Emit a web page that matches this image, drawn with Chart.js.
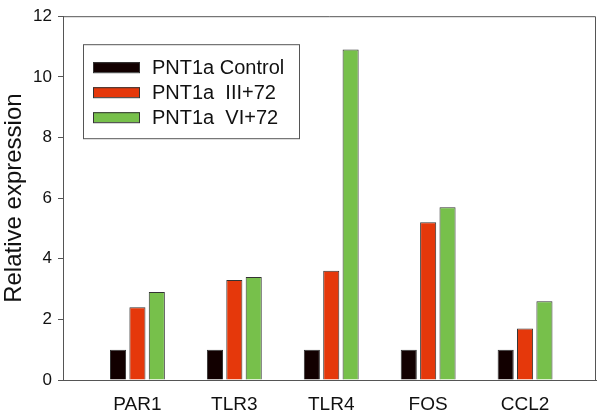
<!DOCTYPE html>
<html>
<head>
<meta charset="utf-8">
<script src="https://cdn.jsdelivr.net/npm/chart.js@4"></script>
<style>
  html, body { margin: 0; padding: 0; background: #fff; }
  #wrap { width: 600px; height: 412px; }
</style>
</head>
<body>
<div id="wrap"><canvas id="grafico"></canvas></div>
<script>
// datos del grafico
const categorias = ["PAR1", "TLR3", "TLR4", "FOS", "CCL2"];
const series = ["PNT1a Control", "PNT1a  III+72", "PNT1a  VI+72"];
const control = [1, 1, 1, 1, 1];
const iii72 = [2.4, 3.3, 3.6, 5.2, 1.7];
const vi72 = [2.9, 3.4, 10.9, 5.7, 2.6];
const ticksY = [0, 2, 4, 6, 8, 10, 12];

const colores = ["#120000", "#e5380b", "#77c04b"];
const fuente = "'Liberation Sans', Arial, sans-serif";
const ejeColor = "#555";

function puntos(valores) {
    return valores.map((v, i) => ({ x: i + 1, y: v }));
}

// marco del area y leyenda dentro del grafico
const marcoYLeyenda = {
    id: "marcoYLeyenda",
    afterDatasetsDraw(chart) {
        const ctx = chart.ctx;
        const a = chart.chartArea;
        ctx.save();
        ctx.strokeStyle = ejeColor;
        ctx.lineWidth = 1;
        ctx.beginPath();
        ctx.moveTo(a.left, a.top + 0.5);
        ctx.lineTo(a.right - 0.5, a.top + 0.5);
        ctx.lineTo(a.right - 0.5, a.bottom);
        ctx.stroke();

        // leyenda
        const x0 = a.left + 20, y0 = a.top + 28;
        ctx.strokeRect(x0 + 0.5, y0 + 0.5, 216, 94);
        ctx.font = "20px " + fuente;
        ctx.textBaseline = "middle";
        chart.data.datasets.forEach((ds, i) => {
            const cy = y0 + 23 + i * 25;
            ctx.fillStyle = ds.backgroundColor;
            ctx.fillRect(x0 + 10, cy - 5, 47, 10);
            ctx.strokeStyle = "#333";
            ctx.strokeRect(x0 + 10.5, cy - 4.5, 46, 10);
            ctx.fillStyle = "#111";
            ctx.fillText(ds.label, x0 + 69, cy + 1);
        });
        ctx.restore();
    }
};

const datos = [control, iii72, vi72];

new Chart(document.getElementById("grafico"), {
    type: "bar",
    data: {
        datasets: datos.map((d, i) => ({
            label: series[i],
            data: puntos(d),
            backgroundColor: colores[i],
            borderColor: "#333",
            borderWidth: 1,
            categoryPercentage: 0.6,
            barPercentage: 0.83
        }))
    },
    options: {
        responsive: true,
        maintainAspectRatio: false,
        animation: false,
        layout: { padding: { top: 7, right: 4, left: 0, bottom: 0 } },
        plugins: {
            legend: { display: false },
            tooltip: { enabled: false }
        },
        scales: {
            x: {
                type: "linear",
                offset: false,
                min: 0.232,
                max: 5.732,
                afterFit(scale) { scale.height = 32; },
                afterBuildTicks(scale) {
                    scale.ticks = categorias.map((_, i) => ({ value: i + 1 }));
                },
                ticks: {
                    autoSkip: false,
                    maxRotation: 0,
                    padding: 13,
                    color: "#111",
                    font: { family: fuente, size: 19 },
                    callback: v => categorias[v - 1] || ""
                },
                grid: { display: false, drawTicks: false, offset: false },
                border: { display: true, color: ejeColor, width: 1 }
            },
            y: {
                min: 0,
                max: 12,
                afterFit(scale) { scale.width = 63; },
                afterBuildTicks(scale) {
                    scale.ticks = ticksY.map(v => ({ value: v }));
                },
                ticks: {
                    padding: 6,
                    color: "#111",
                    font: { family: fuente, size: 17 }
                },
                grid: {
                    drawOnChartArea: false,
                    drawTicks: true,
                    tickLength: 5,
                    tickColor: ejeColor
                },
                border: { display: true, color: ejeColor, width: 1 },
                title: {
                    display: true,
                    text: "Relative expression",
                    color: "#111",
                    padding: 0,
                    font: { family: fuente, size: 24 }
                }
            }
        }
    },
    plugins: [marcoYLeyenda]
});
</script>
</body>
</html>
